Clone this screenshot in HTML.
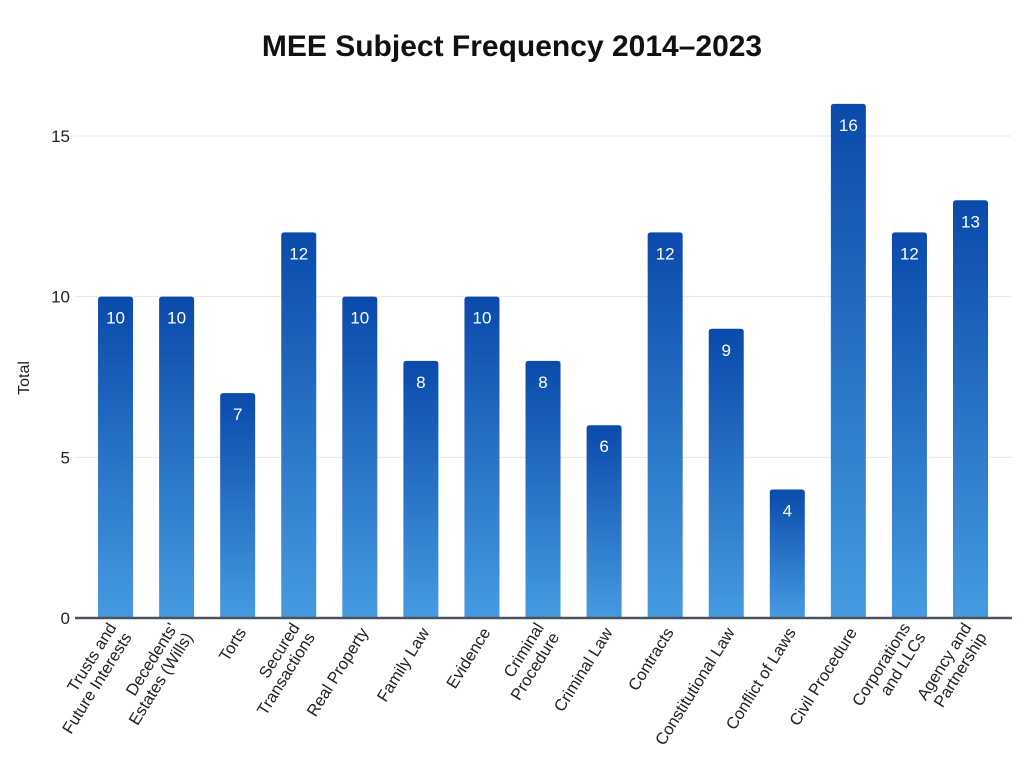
<!DOCTYPE html>
<html><head><meta charset="utf-8"><style>
body{margin:0;background:#fff;font-family:"Liberation Sans",sans-serif}
</style></head><body>
<svg width="1024" height="768" xmlns="http://www.w3.org/2000/svg">
<defs><linearGradient id="g" x1="0" y1="0" x2="0" y2="1"><stop offset="0" stop-color="#0a4aab"/><stop offset="1" stop-color="#459be1"/></linearGradient></defs>
<text x="512" y="56" text-anchor="middle" font-size="30" font-weight="bold" fill="#111">MEE Subject Frequency 2014–2023</text>
<text transform="translate(29,378) rotate(-90)" text-anchor="middle" font-size="16" fill="#222">Total</text>
<g id="grid"></g><g id="bars"></g><g id="xl"></g>
</svg>
<script>
const categories=[["Trusts and","Future Interests"],["Decedents'","Estates (Wills)"],["Torts"],["Secured","Transactions"],["Real Property"],["Family Law"],["Evidence"],["Criminal","Procedure"],["Criminal Law"],["Contracts"],["Constitutional Law"],["Conflict of Laws"],["Civil Procedure"],["Corporations","and LLCs"],["Agency and","Partnership"]];
const values=[10,10,7,12,10,8,10,8,6,12,9,4,16,12,13];
const yTicks=[0,5,10,15];
const NS="http://www.w3.org/2000/svg";
const y=v=>618-v*(482/15);
const band=61.07, x0=85;
const xc=i=>x0+band*(i+0.5);
function mk(t,a,p){const e=document.createElementNS(NS,t);for(const k in a)e.setAttribute(k,a[k]);p.appendChild(e);return e;}
const grid=document.getElementById('grid');
yTicks.forEach(t=>{
  if(t>0){const l=mk('line',{x1:75,x2:1012,y1:y(t),y2:y(t),stroke:'#e8e8e8','stroke-width':1},grid);
  
  }
  const tx=mk('text',{x:70,y:y(t)+6,'text-anchor':'end','font-size':17,fill:'#222'},grid);tx.textContent=t;
  
  
});
const bars=document.getElementById('bars'), xl=document.getElementById('xl');
values.forEach((v,i)=>{
  const w=35,cx=xc(i),top=y(v),r=3;
  const p=mk('path',{d:`M${cx-w/2},618V${top+r}Q${cx-w/2},${top} ${cx-w/2+r},${top}H${cx+w/2-r}Q${cx+w/2},${top} ${cx+w/2},${top+r}V618Z`,fill:'url(#g)'},bars);
  
  
  const t=mk('text',{x:cx,y:top+27,'text-anchor':'middle','font-size':17,fill:'#fff'},bars);t.textContent=v;
  
  
  const lines=categories[i];
  const g=mk('text',{transform:`translate(${cx+4},629) rotate(-58)`,'text-anchor':'end','font-size':16.5,fill:'#222'},xl);
  
  
  lines.forEach((s,j)=>{const ts=mk('tspan',{x:0,y:(j-(lines.length-1)/2)*18+6},g);ts.textContent=s;});
});
const ax=mk('line',{x1:75,x2:1012,y1:618,y2:618,stroke:'#4a5260','stroke-width':2.5},document.querySelector('svg'));


</script>
</body></html>
